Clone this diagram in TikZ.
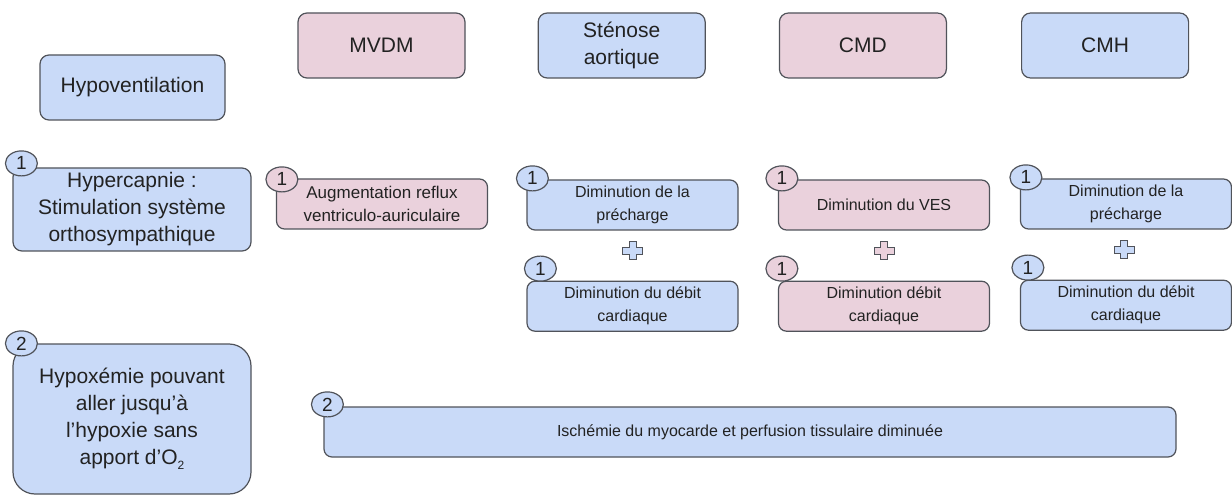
\documentclass[tikz,border=0pt]{standalone}
\usepackage{fontspec}
\setmainfont{Liberation Sans}
\usetikzlibrary{shapes.geometric,positioning}
\definecolor{boxblue}{HTML}{C9DAF8}
\definecolor{boxpink}{HTML}{EAD1DC}
\definecolor{boxline}{HTML}{50535A}
\definecolor{boxtext}{HTML}{222222}
\tikzstyle{headbox} = [rectangle, rounded corners=9pt, draw=boxline, line width=1.2pt, text=boxtext, align=center, inner sep=0pt, minimum width=167pt, minimum height=65pt, font=\fontsize{21}{27}\selectfont]
\tikzstyle{bluehead} = [headbox, fill=boxblue]
\tikzstyle{pinkhead} = [headbox, fill=boxpink]
\tikzstyle{leftbox} = [headbox, fill=boxblue, minimum width=238pt]
\tikzstyle{smallbox} = [rectangle, rounded corners=8pt, draw=boxline, line width=1.2pt, text=boxtext, align=center, inner sep=0pt, minimum width=211pt, minimum height=50pt, font=\fontsize{16}{23}\selectfont]
\tikzstyle{bluesmall} = [smallbox, fill=boxblue]
\tikzstyle{pinksmall} = [smallbox, fill=boxpink]
\tikzstyle{badge} = [ellipse, draw=boxline, line width=1.2pt, text=boxtext, minimum width=32pt, minimum height=25pt, inner sep=0pt, font=\fontsize{19}{19}\selectfont]
\tikzset{pics/plussign/.style={code={
	\draw[draw=boxline, line width=1pt, fill=#1] (-3.5,-9) -- (3.5,-9) -- (3.5,-3.5) -- (10,-3.5) -- (10,3.5) -- (3.5,3.5) -- (3.5,9) -- (-3.5,9) -- (-3.5,3.5) -- (-10,3.5) -- (-10,-3.5) -- (-3.5,-3.5) -- cycle;
}}}

\begin{document}
\begin{tikzpicture}[x=1pt, y=-1pt]
		\useasboundingbox (0,0) rectangle (1232,497);
		
		% pathologies
		\node (mvdm) [pinkhead] at (381.5,45.5) {MVDM};
		
		\node (stenose) [bluehead, right = 72pt of mvdm] {Sténose\\aortique};
		
		\node (cmd) [pinkhead, right = 73pt of stenose] {CMD};
		
		\node (cmh) [bluehead, right = 74pt of cmd] {CMH};
		
		\node (hypovent) [bluehead, minimum width=185pt] at (132.5,87.5) {Hypoventilation};
		
		% mecanismes 1
		\node (hypercap) [leftbox, minimum height=83pt] at (132,209.5) {Hypercapnie :\\Stimulation système\\orthosympathique};
		\node (bhypercap) [badge, fill=boxblue] at ([xshift=9pt, yshift=4pt]hypercap.north west) {1};
		
		\node (reflux) [pinksmall, font=\fontsize{17}{23}\selectfont] at (382,204) {Augmentation reflux\\ventriculo-auriculaire};
		\node (breflux) [badge, fill=boxpink] at ([xshift=6pt, yshift=-1pt]reflux.north west) {1};
		
		\node (prechA) [bluesmall] at (632.5,205) {Diminution de la\\précharge};
		\node (bprechA) [badge, fill=boxblue] at ([xshift=6pt, yshift=1pt]prechA.north west) {1};
		\node (debitA) [bluesmall, below = 50pt of prechA] {Diminution du débit\\cardiaque};
		\node (bdebitA) [badge, fill=boxblue] at ([xshift=14pt, yshift=12pt]debitA.north west) {1};
		\pic at (632.5,251) {plussign=boxblue};
		
		\node (ves) [pinksmall] at (884,205) {Diminution du VES};
		\node (bves) [badge, fill=boxpink] at ([xshift=4pt, yshift=1pt]ves.north west) {1};
		\node (debitB) [pinksmall, below = 50pt of ves] {Diminution débit\\cardiaque};
		\node (bdebitB) [badge, fill=boxpink] at ([xshift=4pt, yshift=12pt]debitB.north west) {1};
		\pic at (884,251) {plussign=boxpink};
		
		\node (prechB) [bluesmall] at (1126,204) {Diminution de la\\précharge};
		\node (bprechB) [badge, fill=boxblue] at ([xshift=6pt, yshift=1pt]prechB.north west) {1};
		\node (debitC) [bluesmall, below = 50pt of prechB] {Diminution du débit\\cardiaque};
		\node (bdebitC) [badge, fill=boxblue] at ([xshift=8pt, yshift=12pt]debitC.north west) {1};
		\pic at (1124,250) {plussign=boxblue};
		
		% mecanismes 2
		\node (hypox) [leftbox, rounded corners=22pt, minimum height=150pt] at (132,419) {Hypoxémie pouvant\\aller jusqu’à\\l’hypoxie sans\\apport d’O\raisebox{-5pt}{\fontsize{12}{12}\selectfont 2}};
		\node (bhypox) [badge, fill=boxblue] at ([xshift=9pt]hypox.north west) {2};
		
		\node (ischemie) [bluesmall, minimum width=852pt] at (750,432) {Ischémie du myocarde et perfusion tissulaire diminuée};
		\node (bischemie) [badge, fill=boxblue] at ([xshift=4pt, yshift=2pt]ischemie.north west) {2};
		
\end{tikzpicture}
\end{document}
